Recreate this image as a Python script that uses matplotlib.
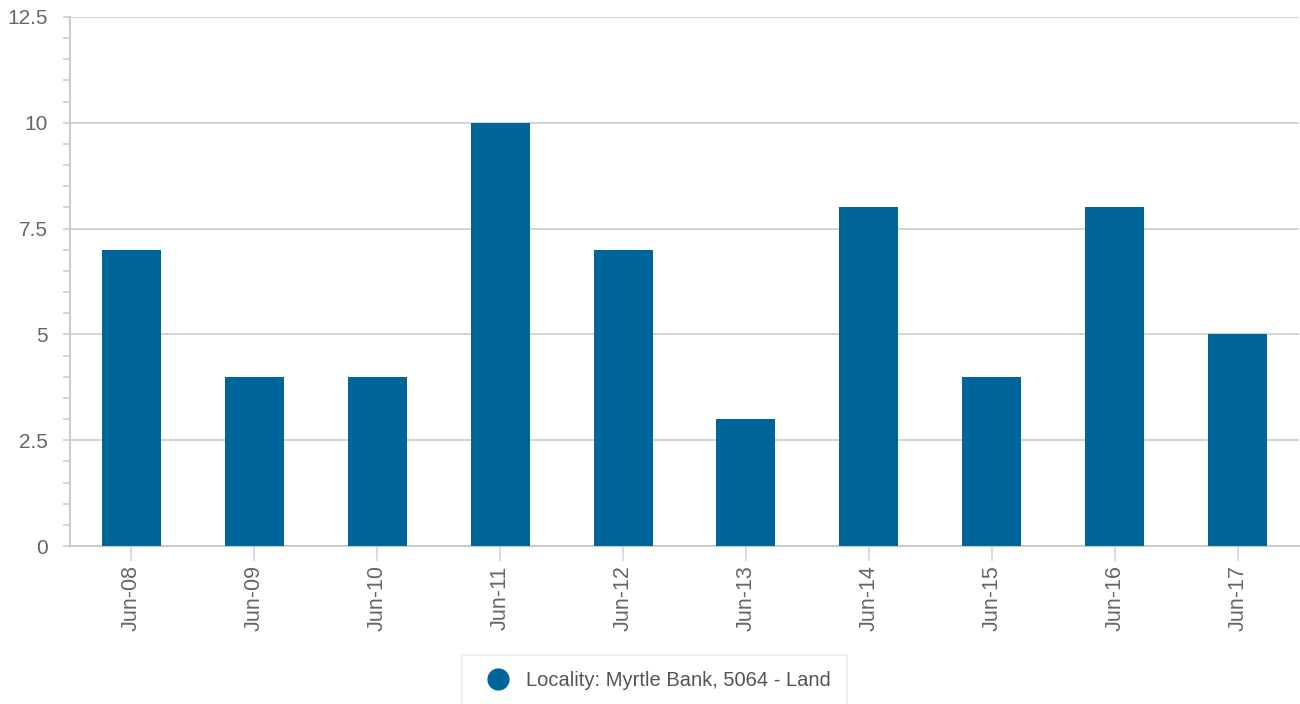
import numpy as np
import matplotlib.pyplot as plt
from matplotlib.lines import Line2D
from matplotlib.ticker import MultipleLocator

categories = ['Jun-08', 'Jun-09', 'Jun-10', 'Jun-11', 'Jun-12',
              'Jun-13', 'Jun-14', 'Jun-15', 'Jun-16', 'Jun-17']
values = [7, 4, 4, 10, 7, 3, 8, 4, 8, 5]
y_ticks = [0, 2.5, 5, 7.5, 10, 12.5]
y_labels = ['0', '2.5', '5', '7.5', '10', '12.5']
series_name = 'Locality: Myrtle Bank, 5064 - Land'

bar_color = '#006699'
text_color = '#666666'
grid_color = '#cccccc'

plt.rcParams['font.family'] = ['Liberation Sans', 'DejaVu Sans']

fig = plt.figure(figsize=(13, 7.04), dpi=100)
ax = fig.add_axes([0.0538, 0.2244, 0.9455, 0.7515])

x = np.arange(len(categories))
ax.bar(x, values, width=0.48, color=bar_color, zorder=3)

ax.set_xlim(-0.5, len(categories) - 0.5)
ax.set_ylim(0, 12.5)
ax.set_yticks(y_ticks)
ax.set_yticklabels(y_labels, fontsize=15, color=text_color)
ax.yaxis.set_minor_locator(MultipleLocator(0.5))
ax.tick_params(axis='y', which='major', length=5, color=grid_color, width=1.2, pad=11)
ax.tick_params(axis='y', which='minor', length=5, color=grid_color, width=1.2)

ax.set_xticks(x)
ax.set_xticklabels(categories, rotation=90, fontsize=15.5, color=text_color)
ax.tick_params(axis='x', length=11, color='#ccd6eb', width=1.2, pad=3)

ax.grid(axis='y', color=grid_color, linewidth=1.2, zorder=0)
for s in ['top', 'right']:
    ax.spines[s].set_visible(False)
for s in ['left', 'bottom']:
    ax.spines[s].set_color(grid_color)
    ax.spines[s].set_linewidth(1.5)

handle = Line2D([], [], marker='o', linestyle='none', markersize=15,
                color=bar_color)
leg = fig.legend([handle], [series_name], loc='lower center',
                 bbox_to_anchor=(0.5035, -0.018), fontsize=14.5, frameon=True,
                 borderpad=0.8, handletextpad=0.4, fancybox=False,
                 labelcolor='#555555')
leg.get_frame().set_edgecolor('#e6e6e6')
leg.get_frame().set_linewidth(1.2)

fig.savefig('out.png', dpi=100)
